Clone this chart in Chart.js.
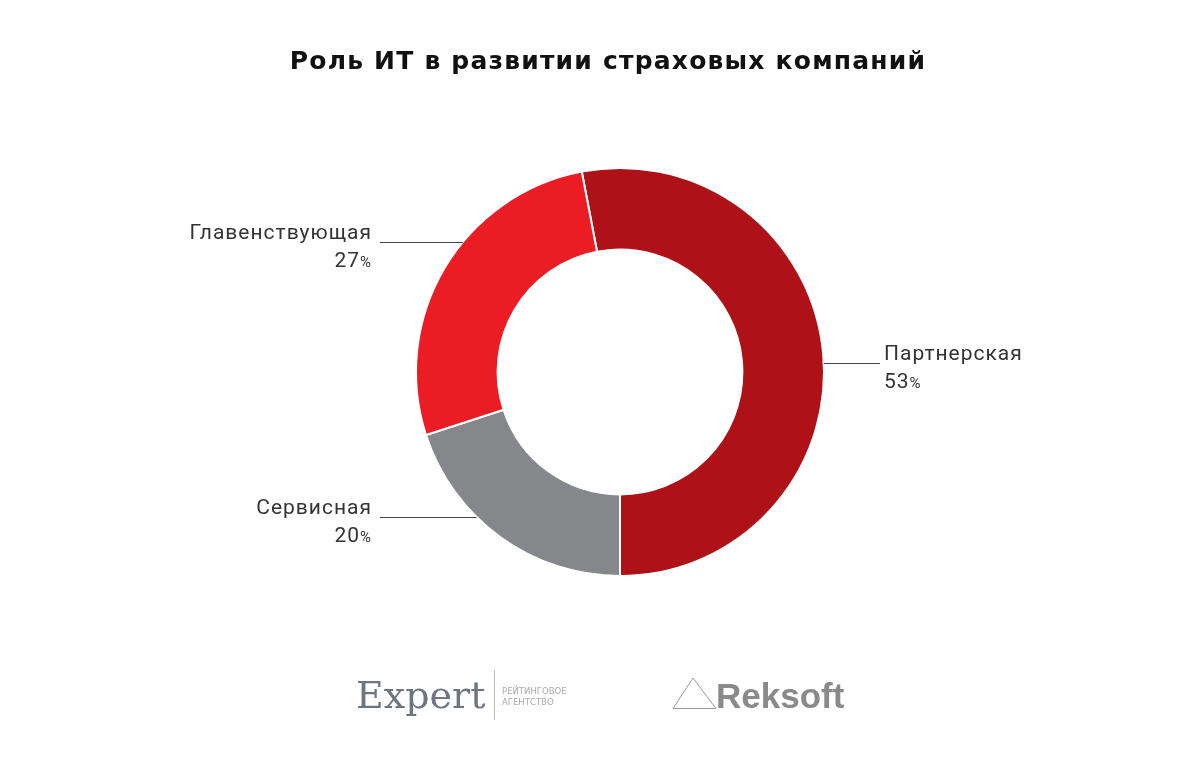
<!DOCTYPE html>
<html lang="ru">
<head>
<meta charset="UTF-8">
<title>Роль ИТ в развитии страховых компаний</title>
<script src="https://cdn.jsdelivr.net/npm/chart.js@4.4.0"></script>
<style>
  html, body { margin: 0; padding: 0; background: #fff; }
  .wrap { width: 1200px; height: 780px; position: relative; }
</style>
</head>
<body>
<div class="wrap"><canvas id="donut"></canvas></div>
<script>
// данные
const categories = ['Партнерская', 'Сервисная', 'Главенствующая'];
const shares = [53, 20, 27];
const colors = ['#AE1118', '#86878B', '#EC1C24'];
const chartTitle = 'Роль ИТ в развитии страховых компаний';

// выноски: сторона и смещение по вертикали от центра
const callouts = [
  { side: 'right', dy: -9 },
  { side: 'left', dy: 145 },
  { side: 'left', dy: -130 }
];

const labelsPlugin = {
  id: 'calloutLabels',
  afterDraw(chart) {
    const ctx = chart.ctx;
    const arc = chart.getDatasetMeta(0).data[0];
    const cx = arc.x, cy = arc.y, r = arc.outerRadius;
    ctx.save();

    // заголовок
    ctx.fillStyle = '#111';
    ctx.font = 'bold 25px "DejaVu Sans"';
    ctx.letterSpacing = '1.2px';
    ctx.textAlign = 'center';
    ctx.textBaseline = 'alphabetic';
    ctx.fillText(chartTitle, 608, 69);

    // подписи
    ctx.letterSpacing = '1px';
    categories.forEach((name, i) => {
      const c = callouts[i];
      const y = cy + c.dy;
      const dx = Math.sqrt(r * r - c.dy * c.dy);
      ctx.strokeStyle = '#444';
      ctx.lineWidth = 1;
      ctx.beginPath();
      let tx;
      if (c.side === 'right') {
        ctx.moveTo(cx + dx, y + 0.5);
        ctx.lineTo(880, y + 0.5);
        tx = 884;
      } else {
        ctx.moveTo(cx - dx, y + 0.5);
        ctx.lineTo(380, y + 0.5);
        tx = 372;
      }
      ctx.stroke();

      ctx.fillStyle = '#333';
      ctx.textAlign = c.side === 'right' ? 'left' : 'right';
      ctx.font = '21px Roboto';
      ctx.fillText(name, tx, y - 3);
      const num = String(shares[i]);
      ctx.font = '21px Roboto';
      const nw = ctx.measureText(num).width;
      ctx.font = '15px Roboto';
      const pw = ctx.measureText('%').width;
      ctx.textAlign = 'left';
      const x0 = c.side === 'right' ? tx : tx - nw - pw;
      ctx.font = '21px Roboto';
      ctx.fillText(num, x0, y + 25);
      ctx.font = '15px Roboto';
      ctx.fillText('%', x0 + nw, y + 25);
    });
    ctx.letterSpacing = '0px';

    // логотипы
    ctx.fillStyle = '#6E7480';
    ctx.textAlign = 'left';
    ctx.font = '38px "DejaVu Serif"';
    ctx.fillText('Expert', 356, 708);
    ctx.strokeStyle = '#bbb';
    ctx.beginPath();
    ctx.moveTo(494.5, 670);
    ctx.lineTo(494.5, 720);
    ctx.stroke();
    ctx.fillStyle = '#aaa';
    ctx.font = '8.5px "DejaVu Sans"';
    ctx.fillText('РЕЙТИНГОВОЕ', 502, 694);
    ctx.fillText('АГЕНТСТВО', 502, 705);

    ctx.strokeStyle = '#999';
    ctx.beginPath();
    ctx.moveTo(673, 708.5);
    ctx.lineTo(693, 678);
    ctx.lineTo(716, 708.5);
    ctx.closePath();
    ctx.stroke();
    ctx.fillStyle = '#8a8a8a';
    ctx.font = 'bold 35px "Liberation Sans"';
    ctx.fillText('Reksoft', 716, 708);
    ctx.restore();
  }
};

new Chart(document.getElementById('donut'), {
  type: 'doughnut',
  data: {
    labels: categories,
    datasets: [{
      data: shares,
      backgroundColor: colors,
      borderColor: '#fff',
      borderWidth: 2,
      hoverOffset: 0
    }]
  },
  options: {
    responsive: true,
    maintainAspectRatio: false,
    animation: false,
    cutout: '60%',
    rotation: -10.8,
    layout: { padding: { top: 167, bottom: 203, left: 415, right: 375 } },
    plugins: {
      legend: { display: false },
      tooltip: { enabled: false }
    }
  },
  plugins: [labelsPlugin]
});
</script>
</body>
</html>
